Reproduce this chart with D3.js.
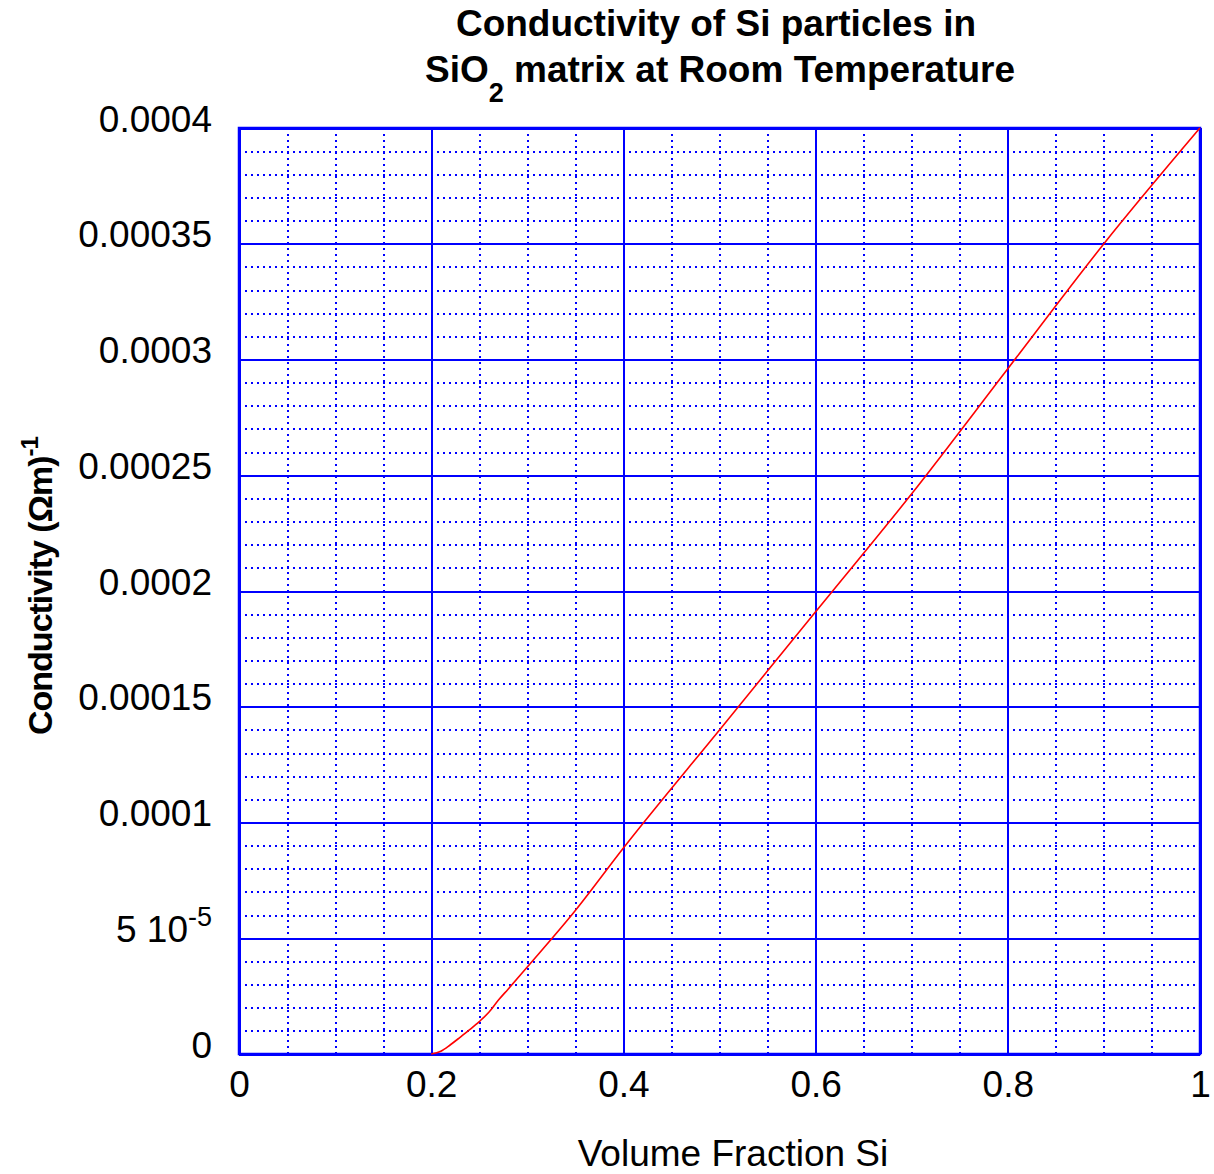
<!DOCTYPE html>
<html>
<head>
<meta charset="utf-8">
<script src="https://cdn.jsdelivr.net/npm/d3@7"></script>
<style>
  body { margin: 0; background: #fff; }
  text { font-family: "Liberation Sans", Arial, sans-serif; fill: #000; }
</style>
</head>
<body>
<div class="root"></div>
<script>
// values
var volumeFraction = [0.2, 0.21, 0.22, 0.23, 0.24, 0.25, 0.26, 0.27, 0.28, 0.3, 0.35, 0.4, 0.5, 0.6, 0.7, 0.8, 0.9, 1.0];
var conductivity = [0, 0.12e-5, 0.4e-5, 0.72e-5, 1.05e-5, 1.4e-5, 1.8e-5, 2.33e-5, 2.8e-5, 3.76e-5, 6.2e-5, 8.9e-5, 14.0e-5, 19.1e-5, 24.2e-5, 29.6e-5, 35.0e-5, 40.0e-5];

var xTicks = [0, 0.2, 0.4, 0.6, 0.8, 1];
var xTickLabels = ['0', '0.2', '0.4', '0.6', '0.8', '1'];
var yTicks = [0, 5e-5, 1e-4, 1.5e-4, 2e-4, 2.5e-4, 3e-4, 3.5e-4, 4e-4];
var yTickLabels = ['0', '5 10|-5', '0.0001', '0.00015', '0.0002', '0.00025', '0.0003', '0.00035', '0.0004'];
var xMinor = d3.range(0, 1.0001, 0.05);
var yMinor = d3.range(0, 4.0001e-4, 1e-5);

function drawChart() {
  var W = 1214, H = 1174;
  var m = {left: 239, top: 128, right: 14, bottom: 120};
  var w = W - m.left - m.right;   // 961
  var h = H - m.top - m.bottom;   // 926
  var blue = '#0000ff';

  var svg = d3.select('.root').append('svg')
    .attr('width', W)
    .attr('height', H);

  var x = d3.scaleLinear().domain([0, 1]).range([0, w]);
  var y = d3.scaleLinear().domain([0, 4e-4]).range([h, 0]);

  var g = svg.append('g').attr('transform', 'translate(' + m.left + ',' + m.top + ')');

  // minor dotted grid
  g.append('g')
    .attr('class', 'minor-x')
    .call(d3.axisBottom(x).tickValues(xMinor).tickSize(-h).tickFormat(''))
    .attr('transform', 'translate(0,' + h + ')');
  g.append('g')
    .attr('class', 'minor-y')
    .call(d3.axisLeft(y).tickValues(yMinor).tickSize(-w).tickFormat(''));
  g.selectAll('.minor-x .tick line, .minor-y .tick line')
    .attr('stroke', blue)
    .attr('stroke-width', 2)
    .attr('stroke-dasharray', '2,4')
    .attr('shape-rendering', 'crispEdges');

  // major solid grid
  g.append('g')
    .attr('class', 'major-x')
    .attr('transform', 'translate(0,' + h + ')')
    .call(d3.axisBottom(x).tickValues(xTicks).tickSize(-h).tickFormat(''));
  g.append('g')
    .attr('class', 'major-y')
    .call(d3.axisLeft(y).tickValues(yTicks).tickSize(-w).tickFormat(''));
  g.selectAll('.major-x .tick line, .major-y .tick line')
    .attr('stroke', blue)
    .attr('stroke-width', 2)
    .attr('shape-rendering', 'crispEdges');
  g.selectAll('.domain').remove();

  // frame
  g.append('rect')
    .attr('width', w)
    .attr('height', h)
    .attr('fill', 'none')
    .attr('stroke', blue)
    .attr('stroke-width', 2.5);

  // tick labels
  var xAxis = g.append('g')
    .attr('transform', 'translate(0,' + h + ')')
    .call(d3.axisBottom(x).tickValues(xTicks).tickSize(0)
      .tickFormat(function(d, i) { return xTickLabels[i]; }));
  xAxis.select('.domain').remove();
  xAxis.selectAll('text')
    .attr('y', 43).attr('dy', 0)
    .style('font-size', '37px')
    .style('font-family', '"Liberation Sans", Arial, sans-serif')
    .attr('fill', '#000');

  var yAxis = g.append('g')
    .call(d3.axisLeft(y).tickValues(yTicks).tickSize(0).tickPadding(27)
      .tickFormat(function(d, i) { return yTickLabels[i]; }));
  yAxis.select('.domain').remove();
  yAxis.selectAll('text')
    .attr('dy', 3)
    .style('font-size', '37px')
    .style('font-family', '"Liberation Sans", Arial, sans-serif')
    .attr('fill', '#000')
    .each(function() {
      var t = d3.select(this);
      var s = t.text();
      if (s.indexOf('|') >= 0) {
        var parts = s.split('|');
        t.text(null);
        t.append('tspan').text(parts[0]);
        t.append('tspan').attr('dy', -16).style('font-size', '27px').text(parts[1]);
      }
    });

  // data line
  var pts = volumeFraction.map(function(v, i) { return [v, conductivity[i]]; });
  g.append('path')
    .datum(pts)
    .attr('fill', 'none')
    .attr('stroke', '#ff0000')
    .attr('stroke-width', 1.6)
    .attr('d', d3.line()
      .curve(d3.curveMonotoneX)
      .x(function(d) { return x(d[0]); })
      .y(function(d) { return y(d[1]); }));

  // title
  var title = svg.append('g')
    .style('font-weight', 'bold')
    .style('font-size', '37px');
  title.append('text')
    .attr('x', 716).attr('y', 36)
    .attr('text-anchor', 'middle')
    .text('Conductivity of Si particles in');
  var t2 = title.append('text')
    .attr('x', 720).attr('y', 82)
    .attr('text-anchor', 'middle');
  t2.append('tspan').text('SiO');
  t2.append('tspan').attr('dy', 20).style('font-size', '27px').text('2');
  t2.append('tspan').attr('dy', -20).text(' matrix at Room Temperature');

  // axis titles
  svg.append('text')
    .attr('x', 733).attr('y', 1166)
    .attr('text-anchor', 'middle')
    .style('font-size', '37px')
    .text('Volume Fraction Si');

  var yl = svg.append('text')
    .attr('transform', 'translate(52,735) rotate(-90)')
    .attr('text-anchor', 'start')
    .style('font-size', '34px')
    .style('font-weight', 'bold')
    .attr('letter-spacing', '-1px');
  yl.append('tspan').text('Conductivity (\u03A9m)');
  yl.append('tspan').attr('dy', -14).style('font-size', '24px').text('-1');
}

window.onload = function() {
  drawChart();
};
</script>
</body>
</html>
